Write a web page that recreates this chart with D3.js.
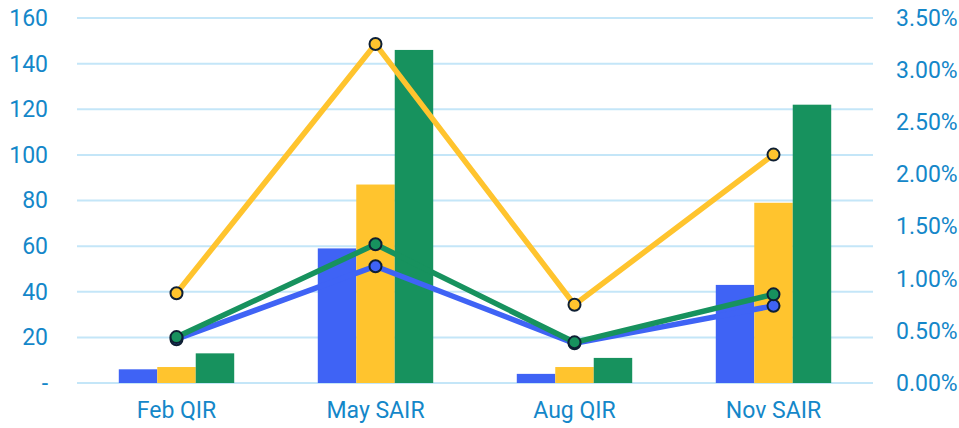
<!DOCTYPE html>
<html>
<head>
<meta charset="utf-8">
<script src="https://cdn.jsdelivr.net/npm/d3@7"></script>
<style>
  body { margin: 0; background: #fff; }
  text { font-family: Roboto, "Noto Sans", sans-serif; }
</style>
</head>
<body>
<div id="chart"></div>
<script>
// categories and series
const categories = ["Feb QIR", "May SAIR", "Aug QIR", "Nov SAIR"];
const seriesNames = ["A", "B", "C"];
const barBlue = [6, 59, 4, 43];
const barYellow = [7, 87, 7, 79];
const barGreen = [13, 146, 11, 122];
const lineBlue = [0.0042, 0.0112, 0.0038, 0.0074];
const lineYellow = [0.0086, 0.0325, 0.0075, 0.0219];
const lineGreen = [0.0044, 0.0133, 0.0039, 0.0085];
const leftTicks = [0, 20, 40, 60, 80, 100, 120, 140, 160];
const rightTicks = [0, 0.005, 0.01, 0.015, 0.02, 0.025, 0.03, 0.035];

const colors = ["#3f63f5", "#ffc42e", "#17925e"];
const textColor = "#1487c9";
const gridColor = "#c4e6f8";

const W = 959, H = 428;
const m = { top: 18, right: 86, bottom: 45, left: 77 };
const width = W - m.left - m.right;
const height = H - m.top - m.bottom;

const svg = d3.select("#chart").append("svg")
  .attr("width", W).attr("height", H);
const g = svg.append("g").attr("transform", `translate(${m.left},${m.top})`);

const x0 = d3.scaleBand().domain(categories).range([0, width])
  .paddingInner(0.42).paddingOuter(0.21);
const x1 = d3.scaleBand().domain(seriesNames).range([0, x0.bandwidth()]);
const yL = d3.scaleLinear().domain([0, 160]).range([height, 0]);
const yR = d3.scaleLinear().domain([0, 0.035]).range([height, 0]);

// grid
g.selectAll(".grid").data(leftTicks).enter().append("line")
  .attr("x1", 0).attr("x2", width)
  .attr("y1", d => yL(d)).attr("y2", d => yL(d))
  .attr("stroke", gridColor).attr("stroke-width", 2);

// left axis
const axL = g.append("g").call(d3.axisLeft(yL).tickValues(leftTicks)
  .tickFormat(d => d === 0 ? "-" : d).tickSize(0).tickPadding(29));
axL.select(".domain").remove();
axL.selectAll("text").attr("fill", textColor).style("font-size", "23px");

// right axis
const axR = g.append("g").attr("transform", `translate(${width},0)`)
  .call(d3.axisRight(yR).tickValues(rightTicks)
    .tickFormat(d3.format(".2%")).tickSize(0).tickPadding(23));
axR.select(".domain").remove();
axR.selectAll("text").attr("fill", textColor).style("font-size", "23px");

// bottom axis
const axB = g.append("g").attr("transform", `translate(0,${height})`)
  .call(d3.axisBottom(x0).tickSize(0).tickPadding(19));
axB.select(".domain").remove();
axB.selectAll("text").attr("fill", textColor).style("font-size", "23px");

// bars
const bars = [barBlue, barYellow, barGreen];
bars.forEach((vals, si) => {
  g.selectAll(".bar" + si).data(vals).enter().append("rect")
    .attr("x", (d, i) => x0(categories[i]) + x1(seriesNames[si]))
    .attr("width", x1.bandwidth())
    .attr("y", d => yL(d))
    .attr("height", d => height - yL(d))
    .attr("fill", colors[si]);
});

// lines
const lines = [lineYellow, lineBlue, lineGreen];
const lineColors = [colors[1], colors[0], colors[2]];
const cx = (d, i) => x0(categories[i]) + x0.bandwidth() / 2;
lines.forEach((vals, si) => {
  const line = d3.line().x(cx).y(d => yR(d));
  g.append("path").datum(vals)
    .attr("d", line)
    .attr("fill", "none")
    .attr("stroke", lineColors[si])
    .attr("stroke-width", 5.5)
    .attr("stroke-linejoin", "round");
  g.selectAll(".pt" + si).data(vals).enter().append("circle")
    .attr("cx", cx)
    .attr("cy", d => yR(d))
    .attr("r", 6)
    .attr("fill", lineColors[si])
    .attr("stroke", "#0e1f33")
    .attr("stroke-width", 2);
});
</script>
</body>
</html>
